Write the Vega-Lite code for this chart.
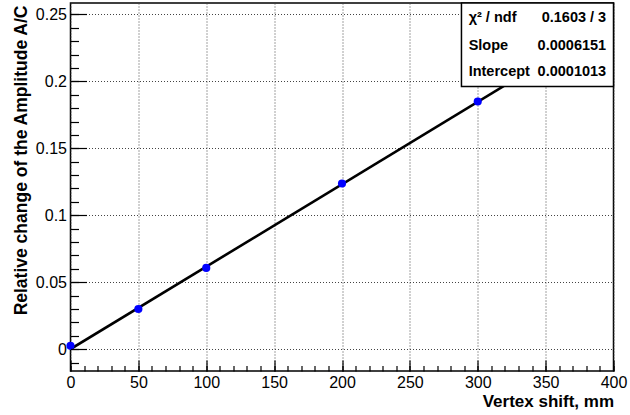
{
  "$schema": "https://vega.github.io/schema/vega-lite/v6.json",
  "width": 543,
  "height": 368,
  "autosize": {"type": "none"},
  "padding": {"left": 70.5, "top": 3, "right": 16.5, "bottom": 44},
  "background": "white",
  "config": {
    "view": {"stroke": "black", "strokeWidth": 1.5},
    "font": "Liberation Sans",
    "axis": {"labelFont": "Liberation Sans", "titleFont": "Liberation Sans", "labelColor": "black", "titleColor": "black", "tickColor": "black", "domain": false}
  },
  "datasets": {
    "fit": [{"shift": 0, "rel": 0.0001013}, {"shift": 400, "rel": 0.2461413}],
    "points": [
      {"shift": 0, "rel": 0.0025},
      {"shift": 50, "rel": 0.0300},
      {"shift": 100, "rel": 0.0607},
      {"shift": 200, "rel": 0.1237},
      {"shift": 300, "rel": 0.1849}
    ],
    "box": [{"x1": 288, "x2": 400, "y1": 0.1961, "y2": 0.2585}],
    "statsLeft": [
      {"tx": 293.3, "ty": 0.2476, "label": "χ² / ndf"},
      {"tx": 293.3, "ty": 0.2266, "label": "Slope"},
      {"tx": 293.3, "ty": 0.2071, "label": "Intercept"}
    ],
    "statsRight": [
      {"tx": 394.6, "ty": 0.2476, "label": "0.1603 / 3"},
      {"tx": 394.6, "ty": 0.2266, "label": "0.0006151"},
      {"tx": 394.6, "ty": 0.2071, "label": "0.0001013"}
    ]
  },
  "layer": [
    {
      "data": {"name": "fit"},
      "mark": {"type": "line", "color": "black", "strokeWidth": 2.6, "clip": true},
      "encoding": {
        "x": {
          "field": "shift", "type": "quantitative",
          "scale": {"domain": [0, 400], "nice": false, "zero": false},
          "axis": {
            "orient": "bottom",
            "values": [0, 50, 100, 150, 200, 250, 300, 350, 400],
            "grid": true, "gridDash": [1, 2], "gridColor": "#444", "gridWidth": 1,
            "ticks": false, "labelPadding": 3, "labelFontSize": 16,
            "labelFlush": false, "labelOverlap": false, "labelBound": false,
            "title": "Vertex shift, mm", "titleFontSize": 17, "titleFontWeight": "bold",
            "titleAlign": "right", "titleAnchor": null, "titleX": 543, "titleY": 35, "titleBaseline": "alphabetic",
            "zindex": 0
          }
        },
        "y": {
          "field": "rel", "type": "quantitative",
          "scale": {"domain": [-0.0163, 0.2585], "nice": false, "zero": false},
          "axis": {
            "orient": "left",
            "values": [0, 0.05, 0.1, 0.15, 0.2, 0.25],
            "format": "~g",
            "grid": true, "gridDash": [1, 2], "gridColor": "#444", "gridWidth": 1,
            "ticks": false, "labelPadding": 4, "labelFontSize": 16,
            "labelFlush": false, "labelOverlap": false, "labelBound": false,
            "title": "Relative change of the Amplitude A/C", "titleFontSize": 17.5, "titleFontWeight": "bold",
            "titleAngle": -90, "titleAlign": "right", "titleAnchor": null, "titleX": -49, "titleY": 2, "titleBaseline": "middle",
            "zindex": 0
          }
        }
      }
    },
    {
      "data": {"name": "points"},
      "mark": {"type": "circle", "color": "#0000ff", "opacity": 1, "size": 66},
      "encoding": {
        "x": {
          "field": "shift", "type": "quantitative",
          "scale": {"domain": [0, 400], "nice": false, "zero": false},
          "axis": {"orient": "bottom", "values": [0, 50, 100, 150, 200, 250, 300, 350, 400], "labels": false, "grid": false, "ticks": true, "tickSize": -11, "tickWidth": 1.2, "title": null, "zindex": 1}
        },
        "y": {
          "field": "rel", "type": "quantitative",
          "scale": {"domain": [-0.0163, 0.2585], "nice": false, "zero": false},
          "axis": {"orient": "left", "values": [0, 0.05, 0.1, 0.15, 0.2, 0.25], "labels": false, "grid": false, "ticks": true, "tickSize": -16, "tickWidth": 1.2, "title": null, "zindex": 1}
        }
      }
    },
    {
      "data": {"name": "box"},
      "mark": {"type": "rect", "fill": "white", "stroke": "black", "strokeWidth": 1.5},
      "encoding": {
        "x": {
          "field": "x1", "type": "quantitative",
          "scale": {"domain": [0, 400], "nice": false, "zero": false},
          "axis": {"orient": "bottom", "values": [0, 10, 20, 30, 40, 50, 60, 70, 80, 90, 100, 110, 120, 130, 140, 150, 160, 170, 180, 190, 200, 210, 220, 230, 240, 250, 260, 270, 280, 290, 300, 310, 320, 330, 340, 350, 360, 370, 380, 390, 400], "labels": false, "grid": false, "ticks": true, "tickSize": -5.5, "tickWidth": 1.2, "title": null, "zindex": 1}
        },
        "x2": {"field": "x2"},
        "y": {
          "field": "y1", "type": "quantitative",
          "scale": {"domain": [-0.0163, 0.2585], "nice": false, "zero": false},
          "axis": {"orient": "left", "values": [-0.01, 0, 0.01, 0.02, 0.03, 0.04, 0.05, 0.06, 0.07, 0.08, 0.09, 0.1, 0.11, 0.12, 0.13, 0.14, 0.15, 0.16, 0.17, 0.18, 0.19, 0.2, 0.21, 0.22, 0.23, 0.24, 0.25], "labels": false, "grid": false, "ticks": true, "tickSize": -8, "tickWidth": 1.2, "title": null, "zindex": 1}
        },
        "y2": {"field": "y2"}
      }
    },
    {
      "data": {"name": "statsLeft"},
      "mark": {"type": "text", "align": "left", "baseline": "middle", "fontSize": 14.5, "fontWeight": "bold", "font": "Liberation Sans", "color": "black"},
      "encoding": {
        "x": {"field": "tx", "type": "quantitative", "scale": {"domain": [0, 400], "nice": false, "zero": false}, "axis": null},
        "y": {"field": "ty", "type": "quantitative", "scale": {"domain": [-0.0163, 0.2585], "nice": false, "zero": false}, "axis": null},
        "text": {"field": "label"}
      }
    },
    {
      "data": {"name": "statsRight"},
      "mark": {"type": "text", "align": "right", "baseline": "middle", "fontSize": 14.5, "fontWeight": "bold", "font": "Liberation Sans", "color": "black"},
      "encoding": {
        "x": {"field": "tx", "type": "quantitative", "scale": {"domain": [0, 400], "nice": false, "zero": false}, "axis": null},
        "y": {"field": "ty", "type": "quantitative", "scale": {"domain": [-0.0163, 0.2585], "nice": false, "zero": false}, "axis": null},
        "text": {"field": "label"}
      }
    }
  ],
  "resolve": {"axis": {"x": "independent", "y": "independent"}}
}
